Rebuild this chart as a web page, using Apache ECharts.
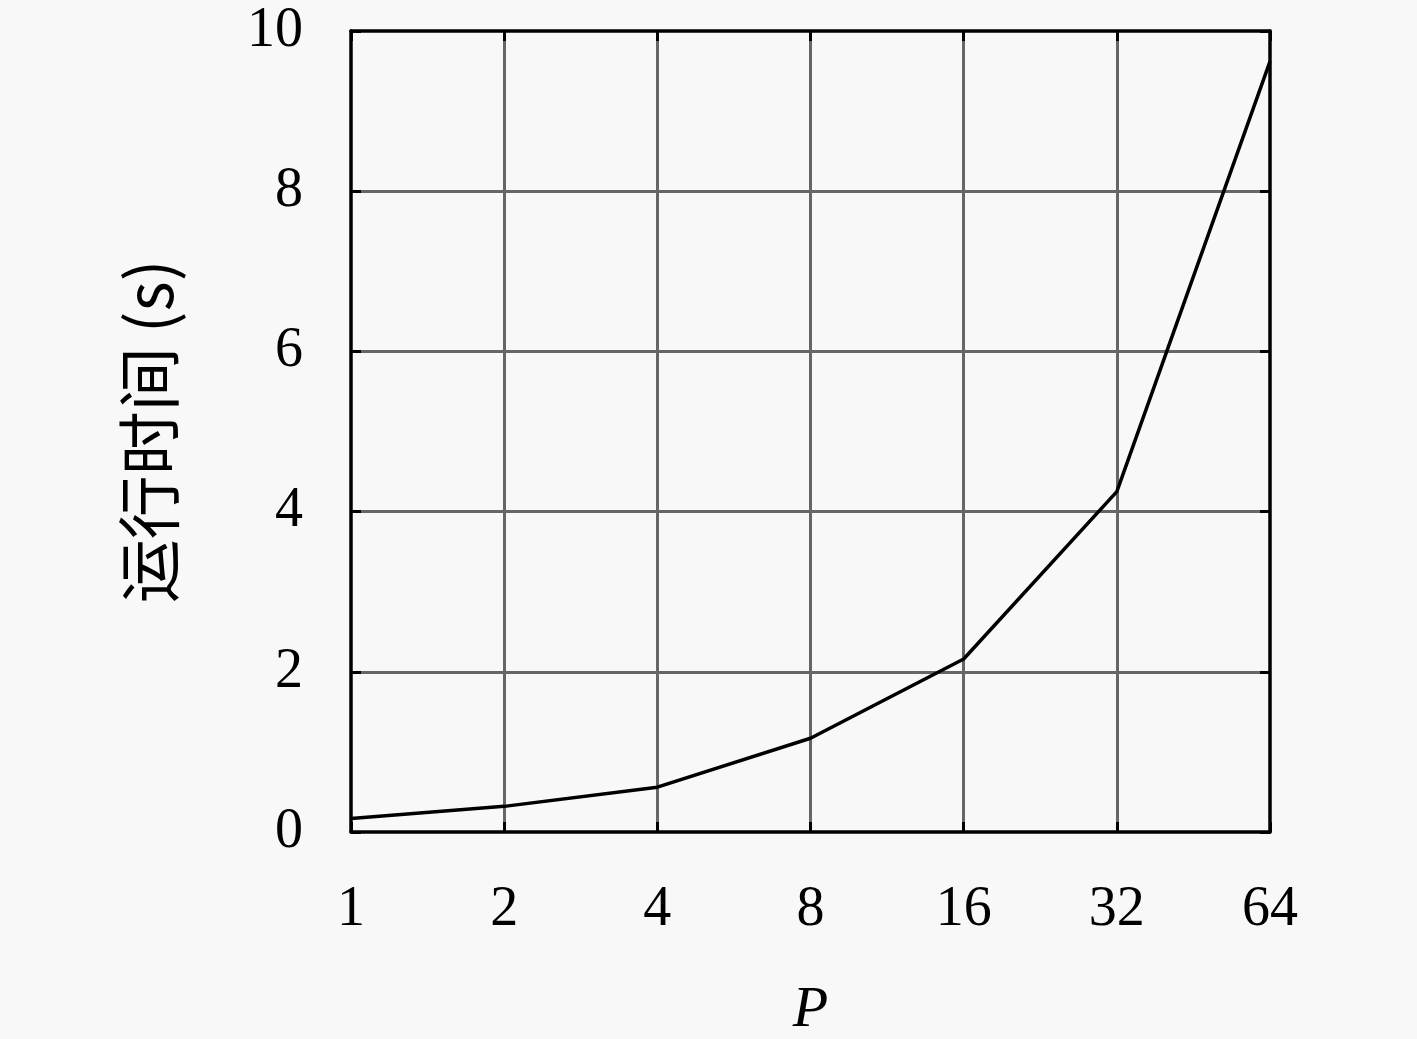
<!DOCTYPE html>
<html>
<head>
<meta charset="utf-8">
<script src="https://cdn.jsdelivr.net/npm/echarts@6/dist/echarts.min.js"></script>
<style>
html,body{margin:0;padding:0;background:#f8f8f8;}
#chart{width:1417px;height:1039px;}
</style>
</head>
<body>
<div id="chart"></div>
<script>
const xValues = [1, 2, 4, 8, 16, 32, 64];
const runTime = [0.17, 0.32, 0.56, 1.17, 2.16, 4.25, 9.62];
const yTicks = [0, 2, 4, 6, 8, 10];
const xName = 'P';
const yName = '运行时间 (s)';

const chart = echarts.init(document.getElementById('chart'));
const serif = '"Liberation Serif", "DejaVu Serif", serif';
const blackLine = { show: true, onZero: false, lineStyle: { color: '#000', width: 3.5 } };
const inTick = { show: true, inside: true, length: 10, lineStyle: { color: '#000', width: 3 } };
const grayGrid = { show: true, showMinLine: false, showMaxLine: false, lineStyle: { color: '#666', width: 3 } };
chart.setOption({
  backgroundColor: '#f8f8f8',
  animation: false,
  grid: { left: 351, right: 147, top: 31, bottom: 207, containLabel: false, outerBoundsMode: 'none' },
  xAxis: [{
    type: 'log', logBase: 2, min: 1, max: 64,
    name: xName, nameLocation: 'middle', nameGap: 150,
    nameTextStyle: { fontFamily: serif, fontStyle: 'italic', fontSize: 58, color: '#000' },
    axisLine: blackLine, axisTick: inTick,
    splitLine: grayGrid,
    minorTick: { show: false },
    axisLabel: { fontFamily: serif, fontSize: 56, color: '#000', margin: 50, formatter: v => String(Math.round(v)) },
    z: 3
  }, {
    type: 'log', logBase: 2, min: 1, max: 64, position: 'top',
    axisLine: blackLine, axisTick: inTick, splitLine: { show: false }, axisLabel: { show: false }, z: 4
  }],
  yAxis: [{
    type: 'value', min: 0, max: 10, interval: 2,
    name: yName, nameLocation: 'middle', nameGap: 170, nameRotate: 90,
    nameTextStyle: { fontFamily: '"Noto Sans CJK SC", serif', fontSize: 64, color: '#000' },
    axisLine: blackLine, axisTick: inTick,
    splitLine: grayGrid,
    axisLabel: { fontFamily: serif, fontSize: 56, color: '#000', margin: 48, formatter: v => yTicks.includes(v) ? String(v) : '' },
    z: 3
  }, {
    type: 'value', min: 0, max: 10, interval: 2, position: 'right',
    axisLine: blackLine, axisTick: inTick, splitLine: { show: false }, axisLabel: { show: false }, z: 4
  }],
  series: [{
    type: 'line',
    data: xValues.map((x, i) => [x, runTime[i]]),
    showSymbol: false,
    lineStyle: { color: '#000', width: 3.5 },
    z: 5
  }]
});
</script>
</body>
</html>
